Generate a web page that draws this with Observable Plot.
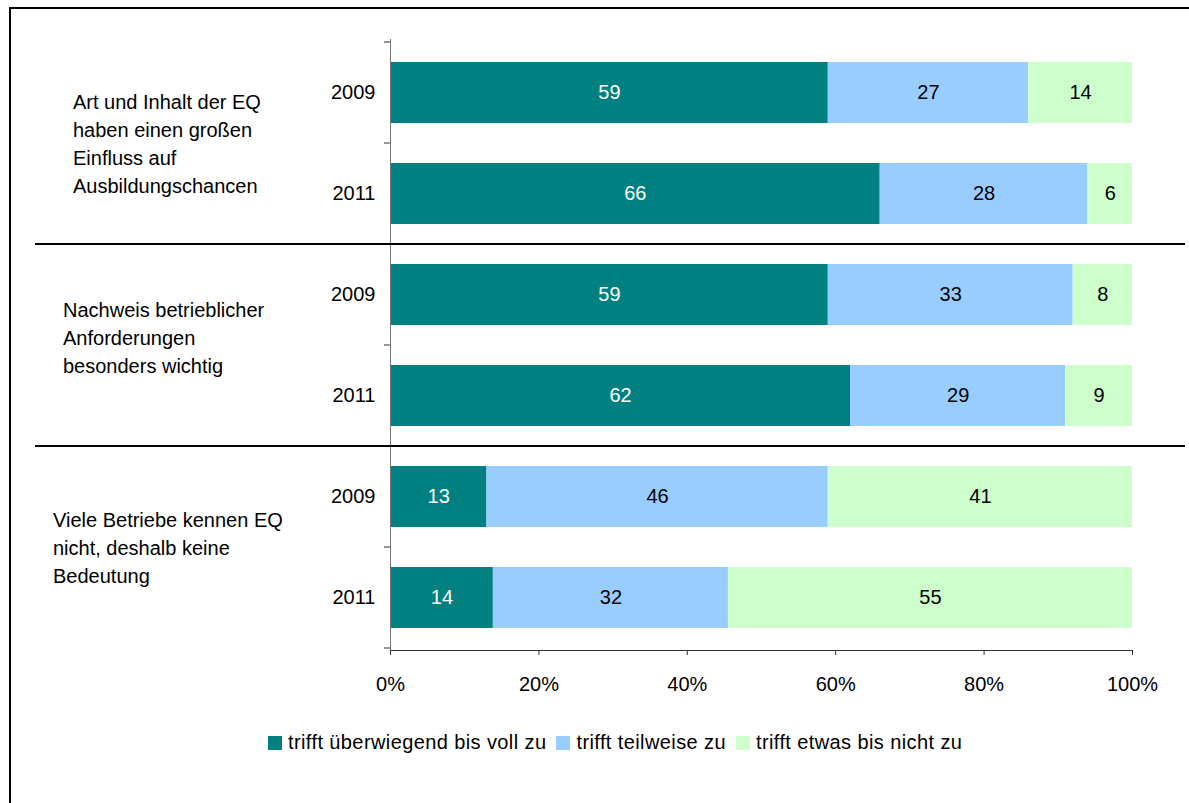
<!DOCTYPE html>
<html>
<head>
<meta charset="utf-8">
<script src="https://cdn.jsdelivr.net/npm/d3@7"></script>
<script src="https://cdn.jsdelivr.net/npm/@observablehq/plot@0.6"></script>
<style>
  html, body { margin: 0; padding: 0; background: #fff; overflow: hidden; }
  #wrap { position: relative; width: 1189px; height: 803px; overflow: hidden; font-family: "Liberation Sans", Arial, sans-serif; }
  #frame { position: absolute; left: 9px; top: 7px; width: 1178px; height: 794px; border-top: 2px solid #000; border-left: 2px solid #000; pointer-events: none; }
  #legend { position: absolute; left: 268px; top: 731px; display: flex; align-items: center; font-size: 20px; letter-spacing: 0.4px; color: #000; white-space: nowrap; }
  #legend .item { display: flex; align-items: center; margin-right: 10px; }
  #legend .sw { width: 14px; height: 14px; margin-right: 6px; }
</style>
</head>
<body>
<div id="wrap"><div id="chart"></div><div id="legend"></div><div id="frame"></div></div>
<script>
// ---- data ----
const groupLabels = [
  ["Art und Inhalt der EQ", "haben einen großen", "Einfluss auf", "Ausbildungschancen"],
  ["Nachweis betrieblicher", "Anforderungen", "besonders wichtig"],
  ["Viele Betriebe kennen EQ", "nicht, deshalb keine", "Bedeutung"]
];
const years = ["2009", "2011"];
const categories = ["trifft überwiegend bis voll zu", "trifft teilweise zu", "trifft etwas bis nicht zu"];
const colors = ["#008080", "#99CCFF", "#CCFFCC"];
// one value per row: group 1 (2009, 2011), group 2 (2009, 2011), group 3 (2009, 2011)
const vollZu  = [59, 66, 59, 62, 13, 14];
const teilZu  = [27, 28, 33, 29, 46, 32];
const nichtZu = [14, 6, 8, 9, 41, 55];
const xTicks = [0, 0.2, 0.4, 0.6, 0.8, 1];

// ---- table ----
const rows = [];
groupLabels.forEach((g, gi) => years.forEach(y => rows.push({group: gi, year: y, key: gi + "-" + y})));
const keys = rows.map(r => r.key);
const series = [vollZu, teilZu, nichtZu];
const data = [];
rows.forEach((r, i) => categories.forEach((c, ci) => data.push({...r, category: c, value: series[ci][i]})));

// label block placement (style)
const labelX = [73, 63, 53];
const labelDy = [1, -7, 1];
const lineH = 28;
const sepX1 = 35, sepX2 = 1185;

function decor(index, scales, values, dimensions) {
  const y = scales.y;
  const bw = typeof y.bandwidth === "function" ? y.bandwidth() : scales.scales.y.bandwidth;
  const step = typeof y.step === "function" ? y.step() : scales.scales.y.step;
  const half = (step - bw) / 2;
  const x0 = scales.x(0);
  const edges = keys.map(k => y(k) - half).concat([y(keys[keys.length - 1]) + bw + half]);
  const g = d3.create("svg:g");
  g.selectAll("line.tick").data(edges).join("line")
    .attr("x1", x0 - 6).attr("x2", x0).attr("y1", d => d).attr("y2", d => d)
    .attr("stroke", "#333");
  const seps = groupLabels.slice(1).map((_, i) => y((i + 1) + "-" + years[0]) - half);
  g.selectAll("line.sep").data(seps).join("line")
    .attr("x1", sepX1).attr("x2", sepX2).attr("y1", d => d).attr("y2", d => d)
    .attr("stroke", "#000").attr("stroke-width", 2);
  groupLabels.forEach((lines, gi) => {
    const top = y(gi + "-" + years[0]) - half;
    const bot = y(gi + "-" + years[years.length - 1]) + bw + half;
    const cy = (top + bot) / 2 + labelDy[gi];
    const t = g.append("text").attr("fill", "#000").attr("font-size", 20).attr("text-anchor", "start");
    lines.forEach((line, li) => {
      t.append("tspan").attr("x", labelX[gi])
        .attr("y", cy + (li - (lines.length - 1) / 2) * lineH)
        .attr("dy", "0.35em").text(line);
    });
  });
  return g.node();
}

const stackOpts = {y: "key", x: "value", offset: "normalize", order: null};

const chart = Plot.plot({
  width: 1189,
  height: 803,
  marginTop: 39,
  marginBottom: 153,
  marginLeft: 390,
  marginRight: 57,
  style: {fontFamily: '"Liberation Sans", Arial, sans-serif', fontSize: "20px", color: "#000", background: "transparent"},
  x: {domain: [0, 1], axis: null},
  y: {domain: keys, paddingInner: 0.4, paddingOuter: 0.2, axis: null},
  color: {domain: categories, range: colors},
  marks: [
    Plot.barX(data, Plot.stackX({...stackOpts, fill: "category"})),
    Plot.text(data, Plot.stackX({...stackOpts, z: "category",
      text: d => d.category === categories[0] ? String(d.value) : null, fill: "white", fontSize: 20})),
    Plot.text(data, Plot.stackX({...stackOpts, z: "category",
      text: d => d.category !== categories[0] ? String(d.value) : null, fill: "black", fontSize: 20})),
    Plot.text(rows, {y: "key", text: "year", frameAnchor: "left", textAnchor: "end", dx: -15, fill: "black", fontSize: 20}),
    Plot.ruleX([0], {stroke: "#777"}),
    Plot.frame({anchor: "bottom", stroke: "#333"}),
    Plot.axisX({ticks: xTicks, tickFormat: d3.format(".0%"), tickSize: 5, tickPadding: 21, stroke: "#333", fill: "black", label: null}),
    decor
  ]
});
document.getElementById("chart").appendChild(chart);

// legend
const legend = d3.select("#legend");
categories.forEach((c, i) => {
  const item = legend.append("div").attr("class", "item");
  item.append("div").attr("class", "sw").style("background", colors[i]);
  item.append("span").text(c);
});
</script>
</body>
</html>
